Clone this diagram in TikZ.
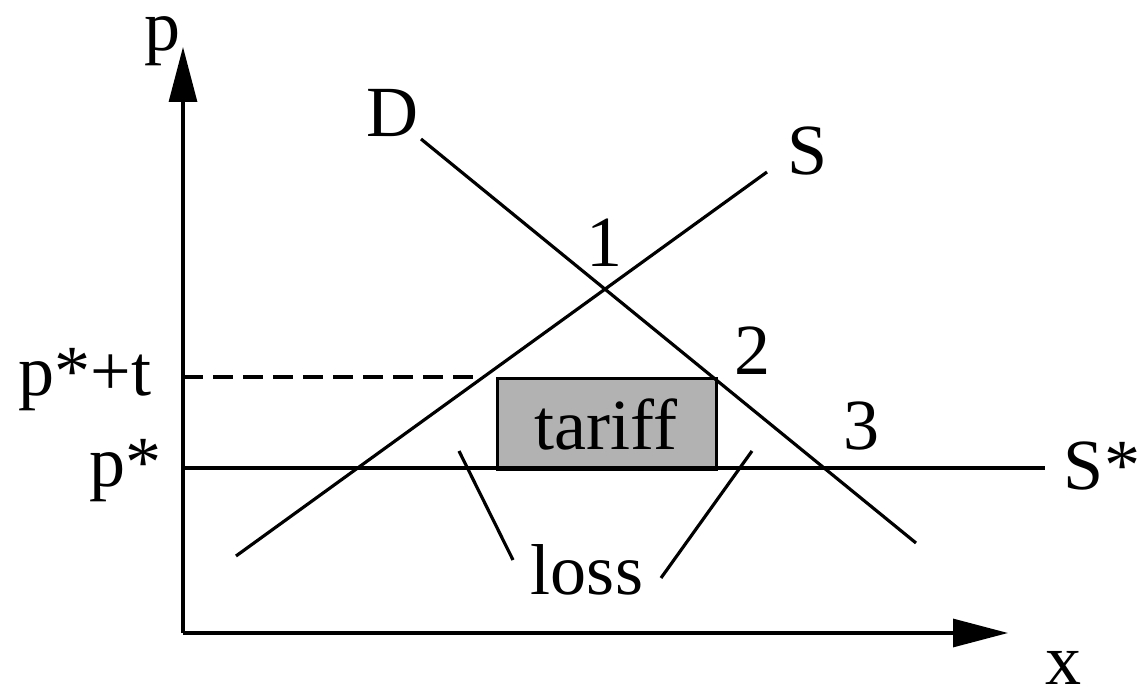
\documentclass[tikz,border=0pt]{standalone}
\usepackage{fontspec}
\setmainfont{Liberation Serif}
\newfontfamily\timesf{Liberation Serif}
\usetikzlibrary{arrows.meta}
\begin{document}
\begin{tikzpicture}[x=0.02cm,y=-0.02cm,
  lbl/.style={anchor=base,inner sep=0pt,font=\timesf\fontsize{41}{41}\selectfont},
  ln/.style={line width=1.8pt},
  axis/.style={ln,-{Triangle[length=1.1cm,width=0.56cm]}},
  dashline/.style={ln,dash pattern=on 0.4cm off 0.2cm}]
\useasboundingbox (0,0) rectangle (1140,692);
\coordinate (O) at (183,633);
\coordinate (ytip) at (183,47);
\coordinate (xtip) at (1008,633);
\coordinate (Dstart) at (421,139);
\coordinate (Dend) at (916,543);
\coordinate (Sstart) at (236,556);
\coordinate (Send) at (767,172);
\coordinate (Sa) at (183,468);
\coordinate (Sb) at (1045,468);
\coordinate (pt) at (183,377);
\coordinate (ptS) at (484,377);
\coordinate (L1a) at (459,451);
\coordinate (L1b) at (513,560);
\coordinate (L2a) at (752,451);
\coordinate (L2b) at (661,578);
\node[draw,ln,fill=black!30,minimum width=219*0.02cm,minimum height=91*0.02cm,inner sep=0pt,anchor=north west] (box) at (496,377) {};
\node[lbl] (tariff) at (606,450) {tariff};
\draw[axis] (O) -- (ytip);
\draw[axis] (O) -- (xtip);
\draw[ln] (Dstart) -- (Dend);
\draw[ln] (Sstart) -- (Send);
\draw[ln] (Sa) -- (Sb);
\draw[dashline] (pt) -- (ptS);
\draw[ln] (L1a) -- (L1b);
\draw[ln] (L2a) -- (L2b);
\node[lbl] (p) at (163,51) {p};
\node[lbl] (x) at (1063,684) {x};
\node[lbl] (D) at (393,137) {D};
\node[lbl] (S) at (808,175) {S};
\node[lbl] (one) at (605,267) {1};
\node[lbl] (two) at (753,375) {2};
\node[lbl] (three) at (862,450) {3};
\node[lbl] (Sstar) at (1102,490) {S*};
\node[lbl] (pstt) at (85,396) {p*+t};
\node[lbl] (pst) at (126,487) {p*};
\node[lbl] (loss) at (587,595) {loss};
\end{tikzpicture}
\end{document}
